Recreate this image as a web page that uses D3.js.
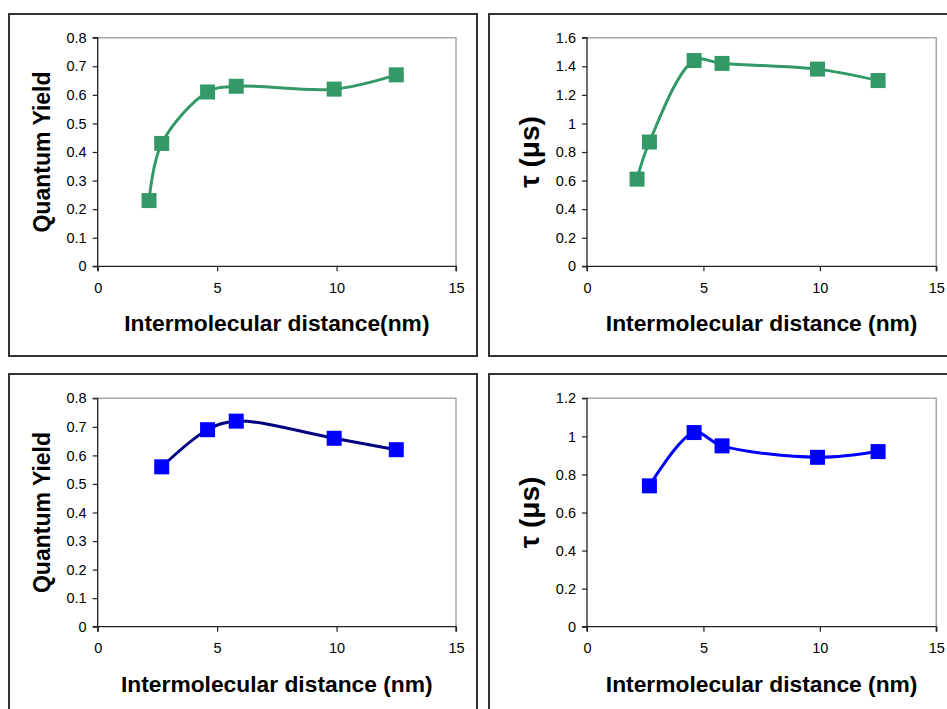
<!DOCTYPE html>
<html><head><meta charset="utf-8">
<script src="https://cdn.jsdelivr.net/npm/d3@7"></script>
<style>body{margin:0;background:#fff}svg{display:block}</style>
</head><body>
<svg id="c" width="947" height="709"></svg>
<script>
// ---- data ----
const distTop = [2.15, 2.68, 4.6, 5.8, 9.9, 12.5];
const qyTop = [0.23, 0.43, 0.61, 0.63, 0.62, 0.67];
const tauTop = [0.61, 0.87, 1.44, 1.42, 1.38, 1.30];
const distBottom = [2.68, 4.6, 5.8, 9.9, 12.5];
const qyBottom = [0.56, 0.69, 0.72, 0.66, 0.62];
const tauBottom = [0.74, 1.02, 0.95, 0.89, 0.92];
const xTicks = [0, 5, 10, 15];
const qyTicks = [0, 0.1, 0.2, 0.3, 0.4, 0.5, 0.6, 0.7, 0.8];
const tauTopTicks = [0, 0.2, 0.4, 0.6, 0.8, 1, 1.2, 1.4, 1.6];
const tauBottomTicks = [0, 0.2, 0.4, 0.6, 0.8, 1, 1.2];
const xTitles = ["Intermolecular distance(nm)", "Intermolecular distance (nm)", "Intermolecular distance (nm)", "Intermolecular distance (nm)"];
const yTitles = ["Quantum Yield", "\u03C4 (\u03BCs)", "Quantum Yield", "\u03C4 (\u03BCs)"];

const GREEN = "#339966", BLUE = "#0000FF", NAVY = "#000080";

const panels = [
  {box:[9,14,468,342], plot:[97.7,456,37.7,266.3], xs:distTop, ys:qyTop, yt:qyTicks, ymax:0.8, marker:GREEN, line:GREEN, xt:xTitles[0], ytl:yTitles[0], tau:false},
  {box:[489,14,470,342], plot:[587,936.3,37.7,266.3], xs:distTop, ys:tauTop, yt:tauTopTicks, ymax:1.6, marker:GREEN, line:GREEN, xt:xTitles[1], ytl:yTitles[1], tau:true},
  {box:[9,374,468,360], plot:[97.7,456,398.3,626.7], xs:distBottom, ys:qyBottom, yt:qyTicks, ymax:0.8, marker:BLUE, line:NAVY, xt:xTitles[2], ytl:yTitles[2], tau:false},
  {box:[489,374,470,360], plot:[587,936.3,398.3,626.7], xs:distBottom, ys:tauBottom, yt:tauBottomTicks, ymax:1.2, marker:BLUE, line:BLUE, xt:xTitles[3], ytl:yTitles[3], tau:true}
];

const svg = d3.select("#c");
const FONT = "'Liberation Sans', Arial, sans-serif";

panels.forEach(p => {
  const [bx, by, bw, bh] = p.box;
  svg.append("rect").attr("x", bx).attr("y", by).attr("width", bw).attr("height", bh)
    .attr("fill", "#fff").attr("stroke", "#333").attr("stroke-width", 2);

  const [x0, x1, y0, y1] = p.plot;
  const x = d3.scaleLinear().domain([0, 15]).range([x0, x1]);
  const y = d3.scaleLinear().domain([0, p.ymax]).range([y1, y0]);

  // plot frame (top/right gray)
  svg.append("path").attr("d", `M${x0},${y0}H${x1}V${y1}`)
    .attr("fill", "none").attr("stroke", "#a8a8a8").attr("stroke-width", 1.5);

  const fmt = d => String(d);
  const gy = svg.append("g").attr("transform", `translate(${x0},0)`)
    .call(d3.axisLeft(y).tickValues(p.yt).tickFormat(fmt).tickSize(5).tickPadding(6));
  const gx = svg.append("g").attr("transform", `translate(0,${y1})`)
    .call(d3.axisBottom(x).tickValues(xTicks).tickFormat(fmt).tickSize(5).tickPadding(11));
  [gx, gy].forEach(g => {
    g.select(".domain").attr("stroke", "#222").attr("stroke-width", 1.3);
    g.selectAll(".tick line").attr("stroke", "#222").attr("stroke-width", 1.2);
    g.selectAll("text").attr("font-family", FONT).attr("font-size", 14.5).attr("fill", "#000");
  });
  gy.select(".domain").attr("d", `M-5,${y0}H0V${y1}H-5`);
  gx.select(".domain").attr("d", `M${x0},5V0H${x1}V5`);

  // line
  const pts = p.xs.map((d, i) => [x(d), y(p.ys[i])]);
  svg.append("path").datum(pts)
    .attr("d", d3.line().curve(d3.curveCatmullRom.alpha(0.5)))
    .attr("fill", "none").attr("stroke", p.line).attr("stroke-width", 3);

  // markers
  const s = 15;
  svg.append("g").selectAll("rect").data(pts).join("rect")
    .attr("x", d => d[0] - s / 2).attr("y", d => d[1] - s / 2)
    .attr("width", s).attr("height", s).attr("fill", p.marker);

  // x title
  svg.append("text").attr("x", (x0 + x1) / 2).attr("y", y1 + 65)
    .attr("text-anchor", "middle").attr("font-family", FONT).attr("font-weight", "bold")
    .attr("font-size", 22.8).text(p.xt);

  // y title
  const cy = (y0 + y1) / 2;
  const tx = p.tau ? bx + 50 : 50;
  svg.append("text").attr("transform", `translate(${tx},${cy}) rotate(-90)`)
    .attr("text-anchor", "middle").attr("font-family", FONT).attr("font-weight", "bold")
    .attr("font-size", p.tau ? 28 : 23).text(p.ytl);
});
</script>
</body></html>
